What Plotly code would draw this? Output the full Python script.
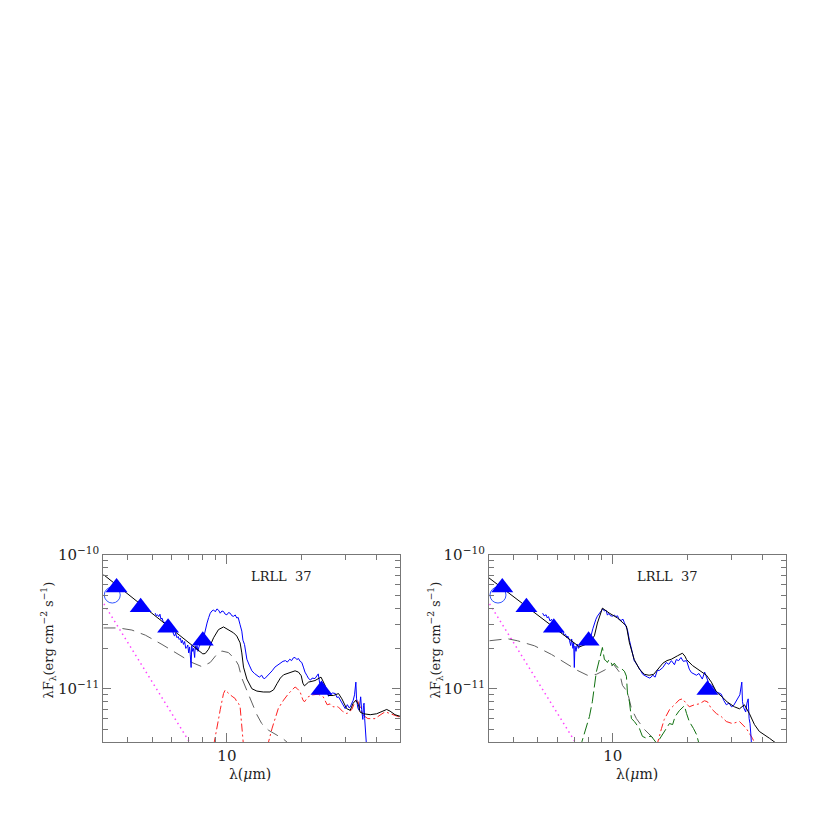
import plotly.graph_objects as go

# ---------------- data (flux values in units of 1e-11 erg cm^-2 s^-1) ----------------
phot_wl = [3.6, 4.5, 5.8, 8.0, 24.0]
phot_f11 = [5.7, 4.05, 2.85, 2.28, 0.98]
circ_wl = [3.46]
circ_f11 = [5.0]

star_wl = [3.2, 4.0, 5.0, 6.0, 7.0, 7.5]
star_f11 = [4.3, 2.2, 1.13, 0.65, 0.41, 0.335]

# left panel
L_spec_wl = [5.15, 5.2, 5.26, 5.32, 5.38, 5.43, 5.48, 5.53, 5.57, 5.62, 5.68, 5.74, 5.8, 5.86, 5.92, 5.98,
             6.04, 6.1, 6.16, 6.22, 6.3, 6.37, 6.43, 6.5, 6.56, 6.62, 6.69, 6.76, 6.83, 6.9, 6.96, 7.02,
             7.08, 7.12, 7.18, 7.22, 7.28, 7.34, 7.42, 7.46, 7.52, 7.58, 7.65, 7.72, 7.8, 7.88, 7.96,
             8.06, 8.18, 8.32, 8.45, 8.57, 8.7, 8.84, 8.98, 9.12, 9.26, 9.4, 9.55, 9.69, 9.84, 10.0,
             10.15, 10.31, 10.47, 10.64, 10.8, 10.96, 11.1, 11.2, 11.3, 11.48, 11.6, 11.77, 11.9, 12.03,
             12.3, 12.6, 12.9, 13.2, 13.5, 13.8, 14.0, 14.2, 14.5, 14.9, 15.2, 15.6, 16.0, 16.4, 16.8,
             17.2, 17.5, 17.9, 18.2, 18.5, 18.8, 19.1, 19.4, 19.7, 20.0, 20.3, 20.6, 21.0, 21.3, 21.7,
             22.0, 22.6, 23.0, 23.3, 23.6, 24.0, 24.4, 24.8, 25.3, 25.6, 26.0, 26.6, 27.3, 27.7, 28.1,
             28.6, 29.0, 29.5, 29.9, 30.5, 31.0, 31.3, 31.8, 32.2, 32.6, 33.0, 33.2, 33.6, 34.0, 34.3,
             34.5, 34.8, 35.2, 35.4, 35.6, 35.8, 36.1, 36.4]
L_spec_f11 = [3.66, 3.5, 3.56, 3.45, 3.6, 3.3, 3.37, 3.2, 3.09, 3.15, 2.95, 2.84, 2.95, 2.8, 2.72, 2.69,
              2.75, 2.55, 2.47, 2.6, 2.4, 2.45, 2.33, 2.38, 2.2, 2.3, 2.14, 2.25, 2.0, 2.03, 2.12, 1.85,
              2.05, 1.81, 1.44, 2.1, 1.9, 2.0, 1.71, 2.09, 1.95, 2.1, 1.9, 2.05, 2.15, 2.2, 2.3,
              2.4, 2.75, 3.09, 3.4, 3.66, 3.8, 3.87, 3.75, 3.94, 3.85, 3.66, 3.8, 3.77, 3.6, 3.56,
              3.7, 3.66, 3.5, 3.47, 3.55, 3.37, 3.4, 3.25, 3.0, 2.69, 2.3, 2.14, 1.9, 1.66,
              1.5, 1.36, 1.3, 1.26, 1.22, 1.26, 1.2, 1.19, 1.24, 1.29, 1.36, 1.45, 1.5, 1.57, 1.6,
              1.62, 1.58, 1.66, 1.62, 1.7, 1.71, 1.65, 1.68, 1.6, 1.57, 1.45, 1.33, 1.25, 1.19, 1.16,
              1.2, 1.19, 1.25, 1.29, 1.1, 1.05, 1.0, 0.92, 0.95, 0.88, 0.9, 0.93, 0.92, 0.86, 0.87,
              0.82, 0.78, 0.74, 0.71, 0.76, 0.72, 0.73, 0.78, 0.82, 0.9, 1.12, 0.85, 0.72, 0.69, 0.82,
              0.87, 0.7, 0.59, 0.75, 0.78, 0.6, 0.49, 0.38]

L_model_wl = [3.19, 7.82, 8.0, 8.18, 8.44, 8.84, 9.25, 9.69, 10.15, 10.64, 10.96, 11.3, 11.48, 11.66,
              12.03, 12.6, 13.2, 14.0, 14.9, 15.4, 15.9, 16.4, 16.9, 17.9, 18.8, 19.4, 19.9, 20.2,
              20.5, 21.3, 22.6, 23.9, 24.8, 25.6, 26.8, 28.1, 29.0, 30.3, 31.3, 32.2, 33.0, 33.8,
              34.3, 35.4, 37.7, 40.0, 42.6, 43.9, 45.3, 47.4, 50.0]
L_model_f11 = [7.1, 1.86, 1.82, 1.83, 1.97, 2.4, 2.76, 2.89, 2.76, 2.61, 2.47, 2.2, 1.85, 1.45,
               1.18, 1.0, 0.96, 0.945, 0.945, 0.98, 1.09, 1.2, 1.27, 1.32, 1.36, 1.33, 1.25, 1.1,
               1.05, 1.12, 1.15, 1.22, 1.06, 0.89, 0.89, 0.92, 0.84, 0.71, 0.69, 0.78, 0.82, 0.76,
               0.67, 0.65, 0.64, 0.65, 0.69, 0.70, 0.68, 0.64, 0.62]

L_wall_wl = [3.19, 3.67, 4.15, 4.7, 5.48, 6.4, 7.23, 7.94, 8.57, 9.12, 9.55, 10.15, 10.8, 11.13, 11.48,
             12.03, 12.6, 13.2, 13.8, 14.7, 15.9, 16.9, 18.0]
L_wall_f11 = [2.84, 2.84, 2.74, 2.51, 2.14, 1.81, 1.57, 1.46, 1.57, 1.81, 1.91, 1.86, 1.65, 1.5, 1.2,
              0.97, 0.78, 0.64, 0.55, 0.49, 0.45, 0.42, 0.38]

L_disk_wl = [8.85, 8.97, 9.12, 9.25, 9.4, 9.55, 9.69, 9.84, 10.0, 10.15, 10.31, 10.57, 10.8, 10.96, 11.13,
             11.3, 11.38, 11.48, 11.59, 11.7, None,
             14.5, 14.7, 15.2, 15.6, 16.1, 16.9, 17.7, 18.8, 19.2, 19.7, 20.2, 20.5, 21.2, 22.2, 23.3,
             24.4, 25.3, 26.0, 26.7, 28.0, 29.3, 30.4, 31.8, 32.7, 33.3, 34.3, 35.2, 36.9, 39.4, 41.3,
             43.3, 45.3, 48.3, 50.0]
L_disk_f11 = [0.38, 0.428, 0.497, 0.589, 0.697, 0.798, 0.92, 0.977, 0.946, 0.92, 0.90, 0.869, 0.844, 0.798,
              0.777, 0.733, 0.619, 0.522, 0.427, 0.35, None,
              0.37, 0.40, 0.508, 0.60, 0.713, 0.822, 0.92, 1.03, 1.0, 0.946, 0.826, 0.798, 0.869, 0.90,
              0.91, 0.869, 0.759, 0.77, 0.733, 0.733, 0.673, 0.652, 0.70, 0.798, 0.84, 0.733, 0.636,
              0.598, 0.598, 0.636, 0.673, 0.652, 0.619, 0.61]

# right panel
R_spec_wl = [5.23, 5.3, 5.4, 5.46, 5.52, 5.6, 5.68, 5.75, 5.83, 5.9, 5.98, 6.05, 6.13, 6.21, 6.3, 6.38,
             6.46, 6.55, 6.6, 6.7, 6.78, 6.84, 6.92, 6.97, 7.01, 7.05, 7.12, 7.2, 7.28, 7.36, 7.46, 7.6,
             7.75, 7.94, 8.06, 8.18, 8.32, 8.44, 8.56, 8.68, 8.84, 8.98, 9.12, 9.25, 9.4, 9.52, 9.65,
             9.8, 10.0, 10.15, 10.3, 10.45, 10.6, 10.8, 11.0, 11.14, 11.3, 11.46, 11.67, 11.9, 12.05,
             12.2, 12.4, 12.6, 12.9, 13.2, 13.5, 13.8, 14.1, 14.5, 14.8, 15.1, 15.4, 15.9, 16.4, 16.8,
             17.2, 17.5, 17.7, 18.0, 18.4, 18.8, 19.2, 19.8, 20.1, 20.3, 20.7, 21.1, 21.7, 22.2, 22.9,
             23.4, 23.8, 24.3, 24.9, 25.5, 26.1, 26.7, 27.3, 27.9, 28.6, 29.3, 30.0, 30.6, 31.2, 31.8,
             32.4, 33.0, 33.2, 33.6, 34.2, 34.6, 35.0, 35.3, 35.6, 35.9, 36.1]
R_spec_f11 = [3.66, 3.5, 3.56, 3.37, 3.45, 3.2, 3.3, 3.05, 2.92, 3.0, 2.8, 2.85, 2.65, 2.61, 2.7, 2.5,
              2.55, 2.4, 2.47, 2.3, 2.1, 2.35, 2.0, 2.2, 1.44, 2.08, 1.9, 2.15, 2.0, 2.1, 2.2, 2.28,
              2.35, 2.33, 2.4, 2.48, 2.8, 3.09, 3.3, 3.48, 3.66, 3.86, 3.95, 3.8, 3.85, 3.54, 3.65,
              3.5, 3.48, 3.55, 3.45, 3.5, 3.3, 3.23, 3.3, 3.1, 2.9, 2.75, 2.3, 1.96, 1.75,
              1.62, 1.55, 1.49, 1.38, 1.28, 1.24, 1.22, 1.2, 1.26, 1.22, 1.37, 1.37, 1.44, 1.57, 1.52,
              1.62, 1.55, 1.51, 1.65, 1.62, 1.71, 1.6, 1.62, 1.5, 1.40, 1.32, 1.3, 1.26, 1.3, 1.18,
              1.33, 1.2, 1.1, 1.07, 1.0, 0.946, 0.93, 0.91, 0.82, 0.759, 0.78, 0.733, 0.75, 0.8, 0.84,
              0.9, 1.12, 0.8, 0.72, 0.67, 0.78, 0.84, 0.6, 0.55, 0.45, 0.38]

R_model_wl = [3.17, 7.35, 8.06, 8.44, 8.68, 8.98, 9.09, 9.7, 10.45, 11.35, 11.67, 12.2, 12.8, 13.4, 14.0,
              14.6, 15.2, 15.9, 16.5, 17.2, 18.2, 19.05, 19.5, 19.8, 20.9, 22.9, 23.8, 24.9, 26.1, 27.5,
              28.8, 30.8, 32.3, 33.8, 35.4, 37.1, 38.8, 42.6, 45.5]
R_model_f11 = [6.75, 2.05, 2.2, 2.48, 3.09, 3.79, 3.99, 3.66, 3.37, 2.94, 2.2, 1.65, 1.40, 1.28, 1.26,
               1.28, 1.40, 1.55, 1.62, 1.66, 1.76, 1.84, 1.75, 1.65, 1.49, 1.33, 1.26, 1.12, 0.946, 0.869,
               0.798, 0.733, 0.708, 0.759, 0.652, 0.54, 0.48, 0.427, 0.39]

R_wall_wl = [3.2, 3.78, 4.14, 4.85, 5.68, 6.4, 7.21, 7.91, 8.6, 9.3, 10.07, 10.64, 10.94, 11.46, 11.89,
             12.45, 13.4, 14.3, 15.0, 15.8]
R_wall_f11 = [2.28, 2.36, 2.28, 2.09, 1.80, 1.57, 1.37, 1.26, 1.28, 1.38, 1.52, 1.33, 1.06, 0.946, 0.71,
              0.598, 0.497, 0.441, 0.40, 0.36]

R_gap_wl = [7.4, 7.53, 8.06, 8.28, 8.59, 8.89, 9.09, 9.26, 9.4, 9.52, 9.65, 9.79, 9.97, 10.15, 10.35,
            10.64, 10.9, 11.14, 11.35, 11.46, 11.67, 11.89, 12.22, 12.8, 13.16, 13.65, 14.0, 14.3, 14.8,
            15.2, None,
            15.4, 16.4, 16.9, 17.4, 17.8, 18.5, 19.0, 19.4, 19.8, 20.3, 21.1, 21.7, 22.2]
R_gap_f11 = [0.35, 0.406, 0.619, 0.798, 1.33, 1.77, 2.03, 1.65, 1.62, 1.57, 1.64, 1.60, 1.49, 1.55, 1.47,
             1.42, 1.4, 1.35, 1.24, 0.93, 0.798, 0.598, 0.569, 0.505, 0.441, 0.427, 0.44, 0.441, 0.41,
             0.38, None,
             0.419, 0.505, 0.55, 0.54, 0.619, 0.685, 0.72, 0.746, 0.652, 0.569, 0.505, 0.456, 0.39]

R_disk_wl = [15.0, 15.1, 15.7, 16.1, 16.9, 17.7, 18.5, 19.05, 19.8, 20.3, 21.3, 22.3, 23.35, 24.0, 24.9,
             26.1, 27.3, 28.6, 30.2, 32.3, 34.4, 36.4, 37.8]
R_disk_f11 = [0.37, 0.39, 0.505, 0.589, 0.697, 0.759, 0.826, 0.84, 0.771, 0.733, 0.759, 0.771, 0.813, 0.80,
              0.71, 0.652, 0.619, 0.569, 0.55, 0.569, 0.505, 0.427, 0.37]

title_text = "LRLL\u00a0\u00a037"
x_tick_vals = [10]
x_tick_text = ["10"]
x_minor_vals = [4, 5, 6, 7, 8, 9, 20, 30, 40]
y_tick_vals = [1e-11, 1e-10]
y_tick_text = ["10<sup>\u221211</sup>", "10<sup>\u221210</sup>"]
y_minor_vals = [5e-12, 6e-12, 7e-12, 8e-12, 9e-12, 2e-11, 3e-11, 4e-11, 5e-11, 6e-11, 7e-11, 8e-11, 9e-11]


def sc(v):
    return [None if a is None else a * 1e-11 for a in v]


FONT = "DejaVu Serif"
fig = go.Figure()


def add_panel(xa, ya, spec_wl, spec_f, model_wl, model_f, wall_wl, wall_f, extra):
    ax = dict(xaxis=xa, yaxis=ya, showlegend=False, hoverinfo="skip")
    fig.add_trace(go.Scatter(x=star_wl, y=sc(star_f11), mode="lines",
                             line=dict(color="#ff40ff", width=1.5, dash="1.5px,3.5px"), **ax))
    fig.add_trace(go.Scatter(x=wall_wl, y=sc(wall_f), mode="lines",
                             line=dict(color="#606060", width=1, dash="12px,7px"), **ax))
    for (wl, f, col, dash) in extra:
        fig.add_trace(go.Scatter(x=wl, y=sc(f), mode="lines", connectgaps=False,
                                 line=dict(color=col, width=1, dash=dash), **ax))
    fig.add_trace(go.Scatter(x=spec_wl, y=sc(spec_f), mode="lines",
                             line=dict(color="#0000ff", width=1), **ax))
    fig.add_trace(go.Scatter(x=model_wl, y=sc(model_f), mode="lines",
                             line=dict(color="#000000", width=1), **ax))
    fig.add_trace(go.Scatter(x=circ_wl, y=sc(circ_f11), mode="markers",
                             marker=dict(symbol="circle-open", size=16, color="#3355ff",
                                         line=dict(width=1, color="#3355ff")), **ax))
    fig.add_trace(go.Scatter(x=phot_wl, y=sc(phot_f11), mode="markers",
                             marker=dict(symbol="triangle-up", size=19, color="#0000ff",
                                         line=dict(width=0)), **ax))


add_panel("x", "y", L_spec_wl, L_spec_f11, L_model_wl, L_model_f11, L_wall_wl, L_wall_f11,
          [(L_disk_wl, L_disk_f11, "#ff2020", "8px,3px,2px,3px")])
add_panel("x2", "y2", R_spec_wl, R_spec_f11, R_model_wl, R_model_f11, R_wall_wl, R_wall_f11,
          [(R_gap_wl, R_gap_f11, "#107010", "12px,4px"),
           (R_disk_wl, R_disk_f11, "#ff2020", "8px,3px,2px,3px")])

W = 830.0
yd = [1 - 741 / W, 1 - 551 / W]
xr = [0.503, 1.696]
yr = [-11.399, -10.0]


def xaxis(domain, anchor):
    return dict(type="log", range=xr, domain=domain, anchor=anchor,
                tickmode="array", tickvals=x_tick_vals, ticktext=x_tick_text,
                ticks="inside", ticklen=9, tickwidth=1.2, tickcolor="#777777",
                showline=True, linecolor="#777777", linewidth=1.3, mirror="ticks",
                showgrid=False, zeroline=False,
                tickfont=dict(family=FONT, size=15, color="#222222"),
                minor=dict(tickmode="array", tickvals=x_minor_vals, ticks="inside",
                           ticklen=5, tickcolor="#777777", tickwidth=1, showgrid=False))


def yaxis(anchor):
    return dict(type="log", range=yr, domain=yd, anchor=anchor,
                tickmode="array", tickvals=y_tick_vals, ticktext=y_tick_text,
                ticks="inside", ticklen=8, tickwidth=1.2, tickcolor="#777777",
                showline=True, linecolor="#777777", linewidth=1.3, mirror="ticks",
                showgrid=False, zeroline=False,
                tickfont=dict(family=FONT, size=15, color="#222222"),
                minor=dict(tickmode="array", tickvals=y_minor_vals, ticks="inside",
                           ticklen=5, tickcolor="#777777", tickwidth=1, showgrid=False))


fig.update_layout(
    width=830, height=830, margin=dict(l=0, r=0, t=0, b=0),
    paper_bgcolor="white", plot_bgcolor="white",
    xaxis=xaxis([103.3 / W, 400 / W], "y"),
    yaxis=yaxis("x"),
    xaxis2=xaxis([489 / W, 786 / W], "y2"),
    yaxis2=yaxis("x2"),
)

ann_font = dict(family=FONT, size=13, color="#222222")
for cx in (281 / W, 667.5 / W):
    fig.add_annotation(x=cx, y=1 - 573 / W, xref="paper", yref="paper", text=title_text,
                       showarrow=False, font=ann_font, xanchor="center", yanchor="middle")
for cx in (250 / W, 637 / W):
    fig.add_annotation(x=cx, y=1 - 773 / W, xref="paper", yref="paper",
                       text="\u03bb(<i>\u03bc</i>m)", showarrow=False,
                       font=dict(family=FONT, size=14, color="#222222"),
                       xanchor="center", yanchor="middle")
for cx in (48 / W, 435 / W):
    fig.add_annotation(x=cx, y=1 - 638 / W, xref="paper", yref="paper",
                       text="\u03bbF<sub>\u03bb</sub>(erg cm<sup>\u22122</sup> s<sup>\u22121</sup>)",
                       showarrow=False, font=dict(family=FONT, size=13, color="#222222"),
                       textangle=-90, xanchor="center", yanchor="middle")

fig.write_html("out.html", config={"displayModeBar": False},
               post_script="document.body.style.margin='0';document.body.style.overflow='hidden';")
